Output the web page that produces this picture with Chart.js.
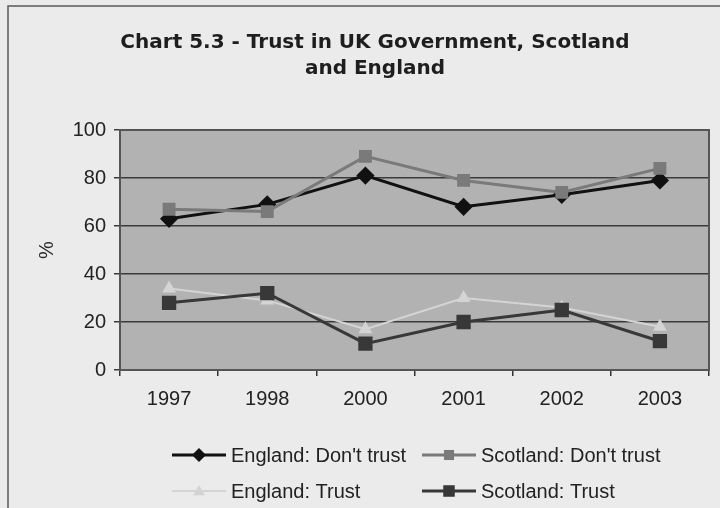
<!DOCTYPE html>
<html>
<head>
<meta charset="utf-8">
<script src="https://cdn.jsdelivr.net/npm/chart.js@4/dist/chart.umd.min.js"></script>
<style>
  html, body { margin: 0; padding: 0; background: #ebebeb; }
  canvas { display: block; }
</style>
</head>
<body>
<canvas id="c" width="720" height="508"></canvas>
<script>
// Survey years and percentages for each series
const categories = ['1997', '1998', '2000', '2001', '2002', '2003'];
const englandDontTrust = [63, 69, 81, 68, 73, 79];
const scotlandDontTrust = [67, 66, 89, 79, 74, 84];
const englandTrust = [34, 29, 17, 30, 26, 18];
const scotlandTrust = [28, 32, 11, 20, 25, 12];
const yTicks = [0, 20, 40, 60, 80, 100];

const titleLines = ['Chart 5.3 - Trust in UK Government, Scotland', 'and England'];
const yTitle = '%';

const seriesStyle = [
  { label: 'England: Don\'t trust', data: englandDontTrust, color: '#111111', marker: 'rectRot', radius: 7, width: 3, order: 4 },
  { label: 'Scotland: Don\'t trust', data: scotlandDontTrust, color: '#7a7a7a', marker: 'rect', radius: 7, width: 3, order: 3 },
  { label: 'England: Trust', data: englandTrust, color: '#d4d4d4', marker: 'triangle', radius: 6, width: 2, order: 2 },
  { label: 'Scotland: Trust', data: scotlandTrust, color: '#383838', marker: 'rect', radius: 8, width: 3, order: 1 }
];

const datasets = seriesStyle.map(s => ({
  label: s.label,
  data: s.data,
  borderColor: s.color,
  backgroundColor: s.color,
  pointBackgroundColor: s.color,
  pointBorderColor: s.color,
  pointStyle: s.marker,
  pointRadius: s.radius,
  pointHoverRadius: s.radius,
  borderWidth: s.width,
  tension: 0,
  order: s.order
}));

function drawMarker(ctx, style, x, y, r, color) {
  ctx.save();
  ctx.fillStyle = color;
  ctx.beginPath();
  if (style === 'rectRot') {
    ctx.moveTo(x, y - r); ctx.lineTo(x + r, y);
    ctx.lineTo(x, y + r); ctx.lineTo(x - r, y);
  } else if (style === 'rect') {
    const h = r * 0.72;
    ctx.rect(x - h, y - h, h * 2, h * 2);
  } else if (style === 'triangle') {
    ctx.moveTo(x, y - r); ctx.lineTo(x + r, y + r * 0.7); ctx.lineTo(x - r, y + r * 0.7);
  }
  ctx.closePath();
  ctx.fill();
  ctx.restore();
}

const decor = {
  id: 'decor',
  beforeDraw(chart) {
    const { ctx, chartArea: a } = chart;
    ctx.save();
    // outer frame
    ctx.strokeStyle = '#5a5a5a';
    ctx.lineWidth = 1.5;
    ctx.strokeRect(8, 6, 730, 520);
    // plot background
    ctx.fillStyle = '#b2b2b2';
    ctx.fillRect(a.left, a.top, a.right - a.left, a.bottom - a.top);
    // title
    ctx.fillStyle = '#1e1e1e';
    ctx.font = 'bold 20px "DejaVu Sans", Verdana, sans-serif';
    ctx.textAlign = 'center';
    ctx.textBaseline = 'alphabetic';
    ctx.fillText(titleLines[0], 375, 48);
    ctx.fillText(titleLines[1], 375, 74);
    // y axis title
    ctx.font = '20px "Liberation Sans", Arial, sans-serif';
    ctx.fillStyle = '#2a2a2a';
    ctx.translate(47, 250);
    ctx.rotate(-Math.PI / 2);
    ctx.textAlign = 'center';
    ctx.textBaseline = 'middle';
    ctx.fillText(yTitle, 0, 0);
    ctx.restore();
  },
  beforeDatasetsDraw(chart) {
    const { ctx, chartArea: a } = chart;
    ctx.save();
    ctx.strokeStyle = '#555555';
    ctx.lineWidth = 2;
    ctx.strokeRect(a.left, a.top, a.right - a.left, a.bottom - a.top);
    ctx.restore();
  },
  afterDraw(chart) {
    const { ctx } = chart;
    // legend: two columns, two rows
    const cols = [172, 422];
    const rows = [455, 491];
    ctx.save();
    ctx.font = '20px "Liberation Sans", Arial, sans-serif';
    ctx.textBaseline = 'middle';
    ctx.textAlign = 'left';
    seriesStyle.forEach((s, i) => {
      const x = cols[i % 2];
      const y = rows[Math.floor(i / 2)];
      ctx.strokeStyle = s.color;
      ctx.lineWidth = s.width;
      ctx.beginPath();
      ctx.moveTo(x, y);
      ctx.lineTo(x + 54, y);
      ctx.stroke();
      drawMarker(ctx, s.marker, x + 27, y, s.radius, s.color);
      ctx.fillStyle = '#222222';
      ctx.fillText(s.label, x + 59, y + 1);
    });
    ctx.restore();
  }
};

new Chart(document.getElementById('c'), {
  type: 'line',
  data: { labels: categories, datasets },
  options: {
    responsive: false,
    animation: false,
    devicePixelRatio: 1,
    layout: { padding: { left: 0, top: 130, right: 10, bottom: 98 } },
    plugins: { legend: { display: false }, title: { display: false }, tooltip: { enabled: false } },
    scales: {
      x: {
        offset: true,
        afterFit(scale) { scale.height = 40; },
        grid: { offset: true, drawOnChartArea: false, drawTicks: true, tickLength: 6, color: '#333333', lineWidth: 1.5 },
        border: { color: '#333333', width: 2 },
        ticks: { color: '#222222', padding: 11, font: { family: '"Liberation Sans", Arial, sans-serif', size: 20 } }
      },
      y: {
        min: 0,
        max: 100,
        afterFit(scale) { scale.width = 120; },
        afterBuildTicks(scale) { scale.ticks = yTicks.map(v => ({ value: v })); },
        grid: { color: '#3a3a3a', lineWidth: 1.5, tickLength: 6, drawTicks: true },
        border: { color: '#333333', width: 2 },
        ticks: { color: '#222222', padding: 8, font: { family: '"Liberation Sans", Arial, sans-serif', size: 20 } }
      }
    }
  },
  plugins: [decor]
});
</script>
</body>
</html>
